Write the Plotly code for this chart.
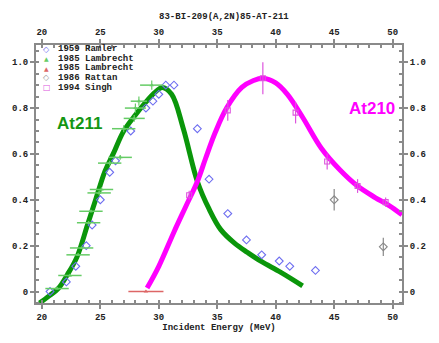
import plotly.graph_objects as go

# ---------------- data ----------------
ramler_e = [20.7, 22.1, 22.9, 23.8, 24.3, 25.0, 25.8, 26.3, 27.6, 28.9, 29.5, 30.0, 30.6, 31.3,
            33.3, 34.3, 35.9, 37.5, 38.8, 40.3, 41.2, 43.4]
ramler_y = [0.0, 0.042, 0.11, 0.20, 0.29, 0.40, 0.52, 0.57, 0.70, 0.80, 0.83, 0.86, 0.90, 0.90,
            0.71, 0.49, 0.34, 0.225, 0.16, 0.133, 0.11, 0.092]

lamb211_e = [21.3, 22.4, 23.1, 23.4, 24.0, 24.2, 24.9, 25.1, 25.8, 26.7, 27.0, 27.9, 28.0, 28.3, 29.4]
lamb211_y = [0.013, 0.07, 0.16, 0.19, 0.30, 0.35, 0.43, 0.445, 0.56, 0.585, 0.71, 0.755, 0.80, 0.83, 0.90]
lamb211_ex = [1.0, 1.0, 1.0, 1.0, 1.0, 1.0, 1.0, 1.0, 1.0, 1.0, 1.0, 0.9, 0.9, 0.7, 1.0]
lamb211_ey = [0.005, 0.005, 0.005, 0.005, 0.005, 0.005, 0.01, 0.01, 0.01, 0.01, 0.015, 0.015, 0.02, 0.02, 0.02]

lamb210_e = [28.9]
lamb210_y = [0.0]
lamb210_ex = [1.5]

rattan_e = [45.0, 49.2]
rattan_y = [0.40, 0.195]
rattan_ey = [0.047, 0.04]

singh_e = [32.6, 35.9, 38.9, 41.7, 44.4, 47.0, 49.4]
singh_y = [0.42, 0.79, 0.93, 0.78, 0.567, 0.46, 0.39]
singh_ey = [0.02, 0.045, 0.07, 0.047, 0.035, 0.03, 0.02]

curve211_e = [19.8, 20.6, 21.4, 22.2, 23.0, 23.9, 24.6, 25.4, 26.1, 27.0, 28.0, 28.8, 29.6, 30.3,
              31.1, 32.1, 33.3, 34.3, 35.3, 36.5, 37.6, 38.8, 40.4, 42.3]
curve211_y = [-0.05, -0.02, 0.013, 0.075, 0.15, 0.29, 0.40, 0.525, 0.60, 0.70, 0.77, 0.82, 0.865, 0.89,
              0.86, 0.71, 0.48, 0.36, 0.27, 0.21, 0.17, 0.13, 0.085, 0.025]

curve210_e = [29.0, 30.0, 31.3, 32.3, 33.3, 34.0, 34.8, 35.8, 37.1, 38.1, 38.9, 40.0, 41.0, 42.3,
              43.9, 45.5, 47.0, 48.5, 49.7, 50.8]
curve210_y = [0.015, 0.11, 0.26, 0.37, 0.48, 0.58, 0.69, 0.80, 0.89, 0.92, 0.93, 0.91, 0.86, 0.76,
              0.625, 0.53, 0.46, 0.41, 0.375, 0.335]

x_ticks = [20, 25, 30, 35, 40, 45, 50]
y_ticks = [0, 0.2, 0.4, 0.6, 0.8, 1.0]
y_ticklabels = ["0", "0.2", "0.4", "0.6", "0.8", "1.0"]

legend_names = ["1959 Ramler", "1985 Lambrecht", "1985 Lambrecht", "1986 Rattan", "1994 Singh"]
legend_glyphs = ["◇", "▲", "▲", "◇", "□"]
legend_colors = ["#6e6ef0", "#66cc66", "#dd6666", "#999999", "#dd55dd"]

XR = [19.5, 50.8]
YR = [-0.05, 1.075]

MONO = "Liberation Mono"
AXC = "#8a8a8a"
TXT = "#222"

fig = go.Figure()

fig.add_trace(go.Scatter(x=curve211_e, y=curve211_y, mode="lines", line_shape="spline",
                         line=dict(color="#0a960a", width=5), showlegend=False))
fig.add_trace(go.Scatter(x=curve210_e, y=curve210_y, mode="lines", line_shape="spline",
                         line=dict(color="#ff00ff", width=5), showlegend=False))

fig.add_trace(go.Scatter(x=ramler_e, y=ramler_y, mode="markers", name=legend_names[0],
                         marker=dict(symbol="diamond-open", size=6, color=legend_colors[0],
                                     line=dict(width=1.1))))
fig.add_trace(go.Scatter(x=lamb211_e, y=lamb211_y, mode="markers", name=legend_names[1],
                         marker=dict(symbol="triangle-up", size=4, color=legend_colors[1]),
                         error_x=dict(type="data", array=lamb211_ex, color=legend_colors[1], thickness=1.5, width=0),
                         error_y=dict(type="data", array=lamb211_ey, color=legend_colors[1], thickness=1.2, width=0)))
fig.add_trace(go.Scatter(x=lamb210_e, y=lamb210_y, mode="markers", name=legend_names[2],
                         marker=dict(symbol="triangle-up", size=4, color=legend_colors[2]),
                         error_x=dict(type="data", array=lamb210_ex, color=legend_colors[2], thickness=1.5, width=0)))
fig.add_trace(go.Scatter(x=rattan_e, y=rattan_y, mode="markers", name=legend_names[3],
                         marker=dict(symbol="diamond-open", size=6, color="#888888", line=dict(width=1.1)),
                         error_y=dict(type="data", array=rattan_ey, color="#888888", thickness=1.2, width=0)))
fig.add_trace(go.Scatter(x=singh_e, y=singh_y, mode="markers", name=legend_names[4],
                         marker=dict(symbol="square-open", size=5, color=legend_colors[4], line=dict(width=1.1)),
                         error_y=dict(type="data", array=singh_ey, color=legend_colors[4], thickness=1.2, width=0)))

fig.add_trace(go.Scatter(x=[None], y=[None], xaxis="x2", yaxis="y2", showlegend=False))

axis_common = dict(showgrid=False, zeroline=False, showline=True, linecolor=AXC, linewidth=2,
                   mirror=False, ticks="outside", ticklen=4, tickcolor=AXC, tickwidth=1.5,
                   tickfont=dict(family=MONO, size=9, color=TXT, weight="bold"))

# hand-built compact legend (plotly legend rows cannot be this tight)
annotations = []
row_px = [49.5, 59.5, 69.5, 79.5, 89.5]
for name, glyph, col, py in zip(legend_names, legend_glyphs, legend_colors, row_px):
    yp = (315 - py) / 270
    annotations.append(dict(text=glyph, x=(47 - 36) / 377, y=yp, xref="paper", yref="paper",
                            xanchor="center", yanchor="middle", showarrow=False,
                            font=dict(family="DejaVu Sans", size=6 if glyph == "▲" else 8, color=col)))
    annotations.append(dict(text=name, x=(57 - 36) / 377, y=yp, xref="paper", yref="paper",
                            xanchor="left", yanchor="middle", showarrow=False,
                            font=dict(family=MONO, size=9, color=TXT, weight="bold")))

annotations += [
    dict(text="At211", x=23.2, y=0.733, xref="x", yref="y", showarrow=False,
         font=dict(family="Liberation Sans", size=17, color="#149614", weight="bold")),
    dict(text="At210", x=48.2, y=0.80, xref="x", yref="y", showarrow=False,
         font=dict(family="Liberation Sans", size=17, color="#ff00ff", weight="bold")),
]

fig.update_layout(
    width=439, height=343,
    margin=dict(l=36, r=26, t=45, b=28),
    paper_bgcolor="white", plot_bgcolor="white",
    showlegend=False,
    title=dict(text="83-BI-209(A,2N)85-AT-211", x=0.51, xanchor="center", y=0.955, yanchor="middle",
               font=dict(family=MONO, size=9, color=TXT, weight="bold")),
    xaxis=dict(range=XR, tickvals=x_ticks, side="bottom",
               minor=dict(dtick=1, ticks="inside", ticklen=3, tickcolor=AXC),
               title=dict(text="Incident Energy (MeV)", standoff=2,
                          font=dict(family=MONO, size=9, color=TXT, weight="bold")),
               **axis_common),
    yaxis=dict(range=YR, tickvals=y_ticks, ticktext=y_ticklabels, side="left",
               minor=dict(dtick=0.05, ticks="inside", ticklen=3, tickcolor=AXC),
               **axis_common),
    xaxis2=dict(range=XR, tickvals=x_ticks, side="top", overlaying="x",
                minor=dict(dtick=1, ticks="inside", ticklen=3, tickcolor=AXC),
                **axis_common),
    yaxis2=dict(range=YR, tickvals=y_ticks, ticktext=y_ticklabels, side="right", overlaying="y",
                minor=dict(dtick=0.05, ticks="inside", ticklen=3, tickcolor=AXC),
                **axis_common),
    annotations=annotations,
)

fig.write_html("out.html")
